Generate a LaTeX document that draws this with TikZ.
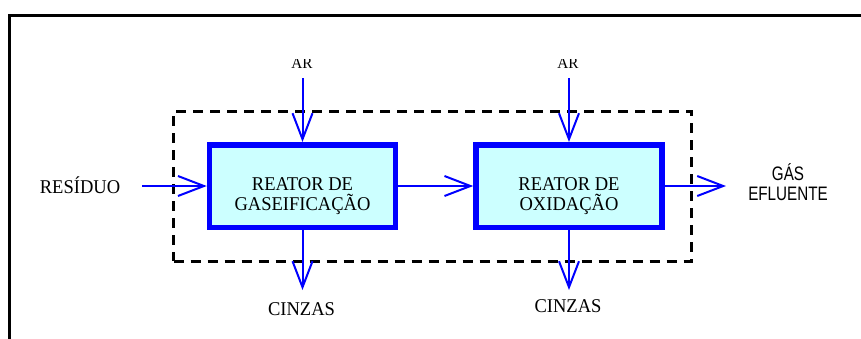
\documentclass[tikz,border=0pt]{standalone}
\usepackage{fontspec}
\usetikzlibrary{arrows.meta}
\newfontfamily\serifc{Liberation Serif}[FakeStretch=0.95]
\newfontfamily\sansc{Liberation Sans}[FakeStretch=0.78]
\definecolor{flowblue}{RGB}{0,0,255}
\definecolor{boxfill}{RGB}{204,255,255}
\tikzset{
  reactor/.style={draw=flowblue, fill=boxfill, line width=5.5pt, inner sep=0pt,
    minimum width=186pt, minimum height=82.5pt},
  boxtext/.style={align=center, inner sep=0pt, font=\serifc\fontsize{19.5}{20}\selectfont},
  lbl/.style={inner sep=0pt, anchor=base, font=\serifc\fontsize{19.5}{20}\selectfont},
  airlbl/.style={inner sep=0pt, anchor=base, font=\serifc\fontsize{16}{16}\selectfont},
  flow/.style={draw=flowblue, line width=2pt,
    -{Straight Barb[length=26pt,width=20pt]}},
  sysbound/.style={draw=black, line width=3pt, dash pattern=on 10pt off 7pt,
    inner sep=0pt, minimum width=517.5pt, minimum height=150pt},
}
\begin{document}
\begin{tikzpicture}[x=1pt,y=-1pt]
\useasboundingbox (0,0) rectangle (861,338);
\fill[white] (0,0) rectangle (861,338);
% outer frame, running off the page on the right and bottom
\draw[line width=2.4pt] (9.5,345) -- (9.5,15.5) -- (870,15.5);

% system boundary
\node[sysbound] (sys) at (432.25,186) {};

% reactors
\node[reactor] (b1) at (302.5,186) {};
\node[reactor] (b2) at (569,186) {};
\node[boxtext] (t1) at (302.5,196.5) {REATOR DE\\GASEIFICAÇÃO};
\node[boxtext] (t2) at (569,196.5) {REATOR DE\\OXIDAÇÃO};

% labels
\node[lbl] (res) at (80,193) {RESÍDUO};
\node[lbl] (cz1) at (301.5,315) {CINZAS};
\node[lbl] (cz2) at (568,312.7) {CINZAS};
\node[align=center, inner sep=0pt, font=\sansc\fontsize{19.5}{20}\selectfont]
  (gas) at (788,182) {GÁS\\EFLUENTE};
\begin{scope}
  \clip (0,59.5) rectangle (861,80);
  \node[airlbl] (ar1) at (302,68) {AR};
  \node[airlbl] (ar2) at (568,68) {AR};
\end{scope}

% free ends of the streams
\coordinate (resin) at (142,186);
\coordinate (air1) at (302.5,78);
\coordinate (air2) at (569,78);
\coordinate (ash1) at (302.5,290);
\coordinate (ash2) at (569,290);
\coordinate (gasout) at (726,186);

% streams
\draw[flow] (resin) -- (b1.west);
\draw[flow] (air1) -- (b1.north);
\draw[flow] (air2) -- (b2.north);
\draw[flow] (b1.east) -- (b2.west);
\draw[flow] (b2.east) -- (gasout);
\draw[flow] (b1.south) -- (ash1);
\draw[flow] (b2.south) -- (ash2);
\end{tikzpicture}
\end{document}
